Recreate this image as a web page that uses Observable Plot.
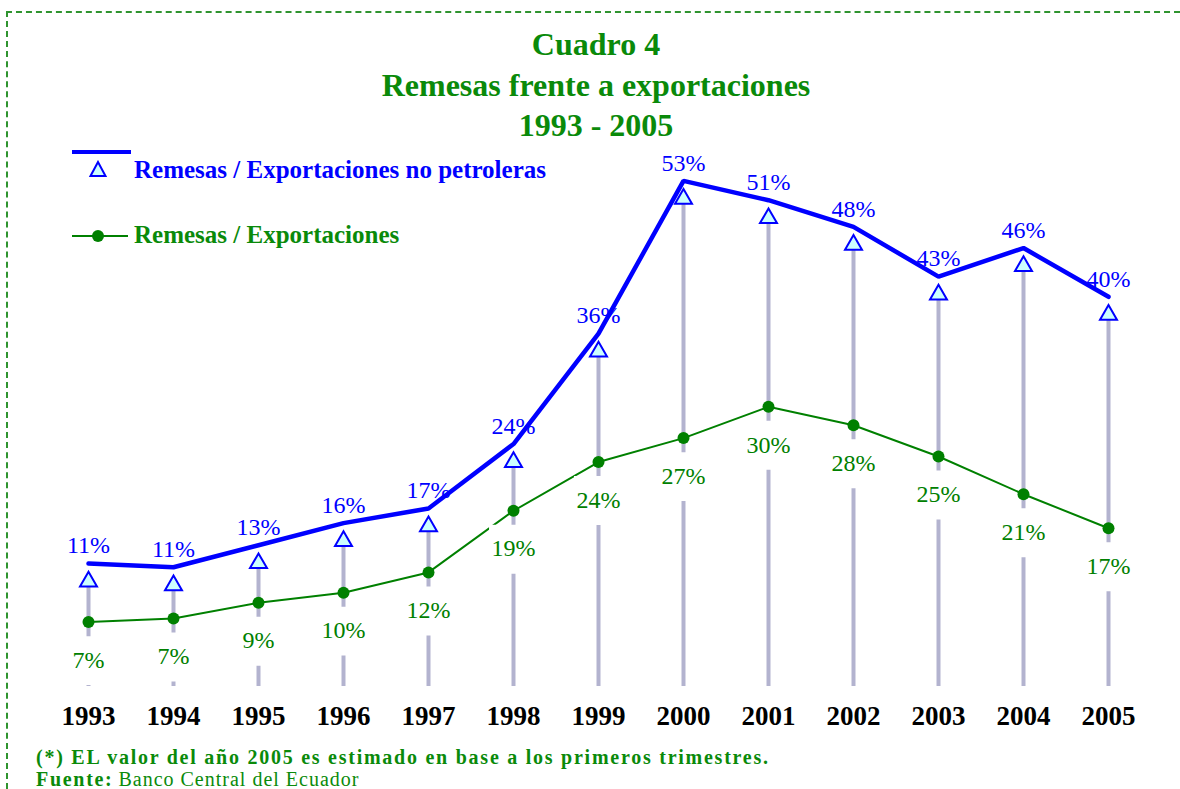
<!DOCTYPE html>
<html>
<head>
<meta charset="utf-8">
<script src="https://cdn.jsdelivr.net/npm/d3@7"></script>
<script src="https://cdn.jsdelivr.net/npm/@observablehq/plot@0.6"></script>
<style>
  html, body { margin: 0; padding: 0; background: #ffffff; }
  body { width: 1180px; height: 789px; position: relative; overflow: hidden;
         font-family: "Liberation Serif", "Times New Roman", serif; }
  .frame { position: absolute; left: 6px; top: 11px; width: 1174px; height: 778px; box-sizing: border-box;
           border-top: 2px dashed #2f942f; border-left: 2px dashed #2f942f; }
  .title { position: absolute; left: 0; top: 24px; width: 1192px; text-align: center;
           color: #0a8a0a; font-weight: bold; font-size: 32px; line-height: 40.5px; }
  #chart { position: absolute; left: 0; top: 120px; width: 1180px; }
  .leg { position: absolute; font-weight: bold; font-size: 25px; line-height: 30px; white-space: nowrap; }
  .note { position: absolute; left: 36px; color: #0a8a0a; font-size: 20px; white-space: nowrap; }
</style>
</head>
<body>
<div class="frame"></div>
<div class="title">Cuadro 4<br>Remesas frente a exportaciones<br>1993 - 2005</div>
<div id="chart"></div>

<div style="position:absolute;left:72px;top:150px;width:59px;height:4px;background:#0000ff;"></div>
<svg style="position:absolute;left:88px;top:160px;" width="20" height="20">
  <polygon points="10,2 2.5,16 17.5,16" fill="#ccffff" stroke="#0000ff" stroke-width="2"/>
</svg>
<div class="leg" style="left:134px;top:155px;color:#0000ff;">Remesas / Exportaciones no petroleras</div>

<div style="position:absolute;left:72px;top:235px;width:56px;height:2px;background:#008000;"></div>
<div style="position:absolute;left:92px;top:230px;width:12px;height:12px;border-radius:6px;background:#008000;"></div>
<div class="leg" style="left:134px;top:220px;color:#0a8a0a;">Remesas / Exportaciones</div>

<div class="note" style="top:745px;line-height:24px;font-weight:bold;letter-spacing:1.75px;">(*) EL valor del año 2005 es estimado en base a los primeros trimestres.</div>
<div class="note" style="top:770px;line-height:19px;"><span style="font-weight:bold;letter-spacing:1.7px;">Fuente:</span> <span style="letter-spacing:1px;">Banco Central del Ecuador</span></div>

<script>
// Years (x categories)
const years = [1993, 1994, 1995, 1996, 1997, 1998, 1999, 2000, 2001, 2002, 2003, 2004, 2005];
// Remesas / Exportaciones no petroleras (%)
const remesasNoPetroleras = [11.4, 11.0, 13.4, 15.8, 17.4, 24.4, 36.4, 53.0, 50.9, 48.0, 42.6, 45.7, 40.4];
// Remesas / Exportaciones (%)
const remesasExportaciones = [7.0, 7.4, 9.1, 10.2, 12.4, 19.1, 24.4, 27.0, 30.4, 28.4, 25.0, 20.9, 17.2];

const data = years.map((year, i) => ({
  year,
  np: remesasNoPetroleras[i],
  ex: remesasExportaciones[i]
}));

const BLUE = "#0000ff";
const GREEN = "#008000";
const pct = v => Math.round(v) + "%";

const chart = Plot.plot({
  width: 1180,
  height: 620,
  marginLeft: 82,
  marginRight: 67,
  marginTop: 14,
  marginBottom: 54,
  x: { type: "point", domain: years, range: [82, 1113], padding: 0, label: null },
  y: { domain: [0, 60], axis: null },
  style: { fontFamily: '"Liberation Serif", "Times New Roman", serif', background: "transparent", overflow: "visible" },
  marks: [
    Plot.ruleX(data, { x: "year", y1: 0, y2: "np", stroke: "#b3b3cf", strokeWidth: 4 }),
    Plot.line(data, { x: "year", y: "np", dy: -18, stroke: BLUE, strokeWidth: 4.5, strokeLinejoin: "miter" }),
    Plot.line(data, { x: "year", y: "ex", stroke: GREEN, strokeWidth: 2 }),
    Plot.dot(data, { x: "year", y: "ex", dy: 38.5, symbol: "square", r: 27.6, fill: "white", stroke: "none" }),
    Plot.text(data, { x: "year", y: "ex", dy: 38, text: d => pct(d.ex), fill: GREEN, fontSize: 24 }),
    Plot.dot(data, { x: "year", y: "ex", r: 6, fill: GREEN, stroke: "none" }),
    Plot.dot(data, { x: "year", y: "np", symbol: "triangle", r: 6.3, fill: "#ccffff", stroke: BLUE, strokeWidth: 2 }),
    Plot.text(data, { x: "year", y: "np", dy: -36, text: d => pct(d.np), fill: BLUE, fontSize: 24 }),
    Plot.axisX({ label: null, tickSize: 0, tickPadding: 19, fontSize: 27, fontWeight: "bold", fill: "black", tickFormat: d => String(d) })
  ]
});
document.getElementById("chart").appendChild(chart);
</script>
</body>
</html>
